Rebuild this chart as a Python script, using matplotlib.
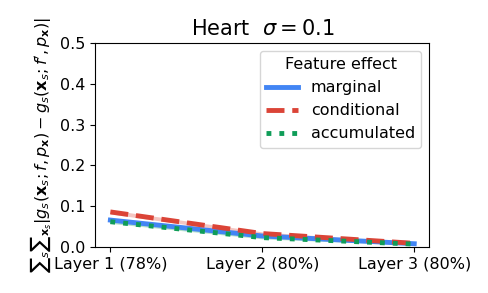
import numpy as np
import matplotlib.pyplot as plt

layers = ["Layer 1 (78%)", "Layer 2 (80%)", "Layer 3 (80%)"]
marginal = [0.066, 0.027, 0.008]
conditional = [0.086, 0.033, 0.009]
accumulated = [0.062, 0.023, 0.007]
marginal_err = [0.004, 0.003, 0.002]
conditional_err = [0.005, 0.004, 0.002]
accumulated_err = [0.004, 0.003, 0.002]

plt.rcParams['font.size'] = 11.5

fig, ax = plt.subplots(figsize=(4.88, 2.93), dpi=100)
x = np.arange(len(layers))

series = [
    ("marginal", marginal, marginal_err, "#4285F4", "-"),
    ("conditional", conditional, conditional_err, "#DB4437", "--"),
    ("accumulated", accumulated, accumulated_err, "#0F9D58", ":"),
]
for name, vals, err, color, ls in series:
    vals = np.array(vals)
    err = np.array(err)
    ax.plot(x, vals, color=color, linestyle=ls, linewidth=3.5, label=name)
    ax.fill_between(x, vals - err, vals + err, color=color, alpha=0.3, linewidth=0)

ax.set_xticks(x)
ax.set_xticklabels(layers)
ax.set_xlim(-0.1, 2.1)
ax.set_ylim(0, 0.5)
ax.set_title(r"Heart  $\sigma = 0.1$", fontsize=15)
ax.set_ylabel(r"$\sum{}_s\sum{}_{\mathbf{x}_s}|g_s(\mathbf{x}_s;f,p_\mathbf{x})-g_s(\mathbf{x}_s;f',p_\mathbf{x})|$",
              fontsize=11.5)
ax.legend(title="Feature effect", loc="upper right")

fig.subplots_adjust(left=0.195, right=0.88, top=0.853, bottom=0.157)
fig.savefig("out.png")
